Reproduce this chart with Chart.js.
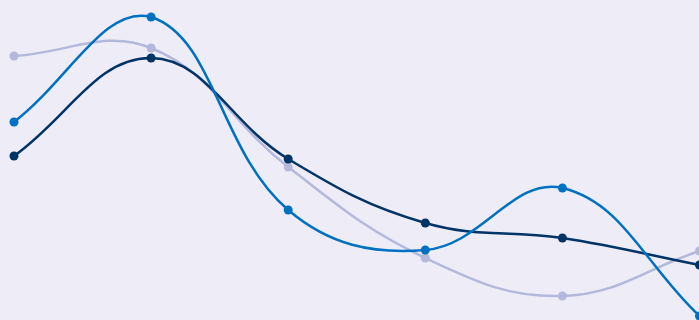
<!DOCTYPE html>
<html>
<head>
<meta charset="utf-8">
<script src="https://cdn.jsdelivr.net/npm/chart.js@4"></script>
<style>
  html, body { margin: 0; padding: 0; background: #eeedf7; overflow: hidden; }
  #wrap { width: 704px; height: 320px; }
</style>
</head>
<body>
<div id="wrap"><canvas id="mycanvas"></canvas></div>
<script>
// values (0 = bottom edge, 320 = top edge)
const categories = ['1', '2', '3', '4', '5', '6'];
const blueValues = [198, 303, 110, 70, 132, 4];
const navyValues = [164, 262, 161, 97, 82, 55];
const greyValues = [264, 272, 153, 62, 24, 69];

function makeSet(label, values, color) {
  return {
    label: label,
    data: values,
    borderColor: color,
    backgroundColor: color,
    pointBackgroundColor: color,
    pointBorderWidth: 0,
    pointRadius: 4.5,
    borderWidth: 2.5,
    tension: 0.4,
    clip: false,
    fill: false
  };
}

const ctx = document.getElementById('mycanvas');
window.myChart = new Chart(ctx, {
  type: 'line',
  data: {
    labels: categories,
    // first dataset is drawn on top
    datasets: [
      makeSet('blue', blueValues, '#0070c0'),
      makeSet('navy', navyValues, '#003366'),
      makeSet('grey', greyValues, '#b4b8da')
    ]
  },
  options: {
    responsive: true,
    maintainAspectRatio: false,
    animation: false,
    layout: { padding: { left: 14, right: 0, top: 0, bottom: 0 } },
    plugins: { legend: { display: false }, tooltip: { enabled: false } },
    scales: {
      x: { display: false, offset: false },
      // chart area is inset by the point radius, so stretch the range to match
      y: { display: false, min: 4.5, max: 315.5 }
    }
  }
});
</script>
</body>
</html>
